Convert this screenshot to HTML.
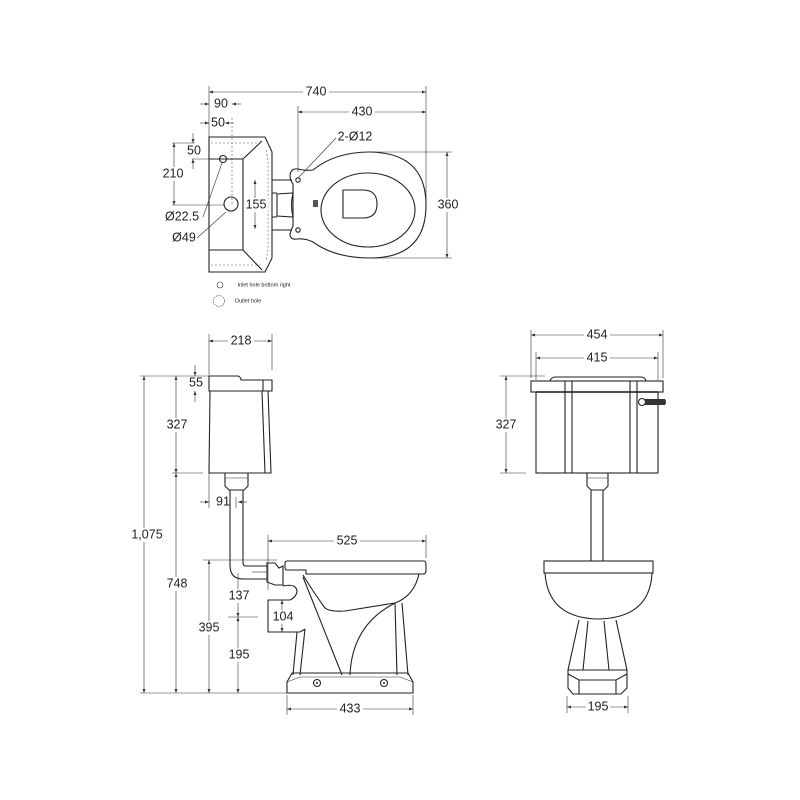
<!DOCTYPE html>
<html><head><meta charset="utf-8"><style>
html,body{margin:0;padding:0;background:#fff}
svg{display:block}
text{font-family:"Liberation Sans",Arial,sans-serif;font-size:12.5px;fill:#222;text-anchor:middle;dominant-baseline:middle}
.l{fill:none;stroke:#222;stroke-width:1.1}
.t{fill:none;stroke:#333;stroke-width:0.6}
.d{fill:none;stroke:#555;stroke-width:0.6;stroke-dasharray:2,2}
.bg{fill:#fff;stroke:none}
</style></head><body>
<svg width="800" height="800" viewBox="0 0 800 800" xmlns="http://www.w3.org/2000/svg">
<defs>
<marker id="a" viewBox="0 0 8 6" refX="8" refY="3" markerWidth="7" markerHeight="5" orient="auto-start-reverse"><path d="M0,0L8,3L0,6z" fill="#333"/></marker>
</defs>

<!-- ================= TOP VIEW ================= -->
<line class="t" x1="209" y1="86" x2="209" y2="137"/>
<line class="t" x1="426" y1="86" x2="426" y2="200"/>
<line class="t" x1="209" y1="92" x2="426" y2="92" marker-start="url(#a)" marker-end="url(#a)"/>
<rect class="bg" x="303" y="85" width="26" height="14"/><text x="316" y="92">740</text>
<line class="t" x1="298" y1="106" x2="298" y2="172"/>
<line class="t" x1="298" y1="112" x2="426" y2="112" marker-start="url(#a)" marker-end="url(#a)"/>
<rect class="bg" x="349" y="105" width="26" height="14"/><text x="362" y="112">430</text>
<line class="t" x1="200" y1="104" x2="209" y2="104" marker-end="url(#a)"/>
<line class="t" x1="241" y1="104" x2="232" y2="104" marker-end="url(#a)"/>
<text x="221" y="104">90</text>
<line class="t" x1="200" y1="123" x2="209" y2="123" marker-end="url(#a)"/>
<line class="t" x1="234" y1="123" x2="225" y2="123" marker-end="url(#a)"/>
<text x="218" y="123">50</text>
<line class="d" x1="232" y1="118" x2="232" y2="205"/>
<line class="t" x1="193" y1="133" x2="193" y2="143" marker-end="url(#a)"/>
<line class="t" x1="193" y1="169" x2="193" y2="159" marker-end="url(#a)"/>
<text x="194" y="151">50</text>
<line class="t" x1="172" y1="143" x2="195" y2="143"/>
<line class="t" x1="192" y1="159" x2="243" y2="159"/>
<line class="t" x1="172" y1="205" x2="225" y2="205"/>
<line class="t" x1="174" y1="143" x2="174" y2="205" marker-start="url(#a)" marker-end="url(#a)"/>
<rect class="bg" x="162" y="167" width="24" height="14"/><text x="173" y="174">210</text>
<path class="l" d="M209,137 L265,137 L272,152 L272,258 L265,272 L209,272 Z"/>
<line class="d" x1="211" y1="143" x2="260" y2="143"/>
<line class="d" x1="211" y1="265" x2="260" y2="265"/>
<path class="l" d="M209,159 L243,159 L262,141 M209,250 L243,250 L262,270 M243,159 L243,250"/>
<path class="d" d="M266,150 L268,160 L268,250 L266,260"/>
<circle class="l" cx="223" cy="159" r="3.5"/>
<circle class="l" cx="231" cy="204" r="7"/>
<line class="t" x1="203" y1="217" x2="222" y2="163"/>
<text x="182" y="217">Ø22.5</text>
<line class="t" x1="197" y1="238" x2="226" y2="212"/>
<text x="184" y="238">Ø49</text>
<path class="l" d="M272,180 L292,180 M272,230 L292,230"/>
<path class="l" d="M277,194 L293,193 Q290,205 293,217 L277,216 Z"/>
<path class="l" d="M272,193 L277,193 M272,217 L277,217"/>
<line class="t" x1="255" y1="180" x2="255" y2="229" marker-start="url(#a)" marker-end="url(#a)"/>
<rect class="bg" x="244" y="198" width="24" height="14"/><text x="256" y="205">155</text>
<!-- bowl -->
<path class="l" d="M313,170 Q335,152 370,152 Q426,153 426,205 Q426,258 370,258 Q335,258 313,242 Q305,238 297,239 Q290,240 290,234 Q291,230 293,226 L293,184 Q290,180 290,175 Q291,168 298,169 Q305,171 313,170 Z"/>
<ellipse class="l" cx="368" cy="210" rx="47" ry="37"/>
<path class="l" d="M343,190 L363,190 Q377,190 377,204 Q377,218 363,218 L343,218 Z"/>
<circle class="l" cx="298" cy="180" r="2.2"/>
<circle class="l" cx="298" cy="230" r="2.2"/>
<rect x="313" y="200" width="5" height="7" fill="#555"/>
<line class="t" x1="336" y1="138" x2="298" y2="178"/>
<text x="355" y="137">2-Ø12</text>
<line class="t" x1="370" y1="152" x2="452" y2="152"/>
<line class="t" x1="370" y1="258" x2="452" y2="258"/>
<line class="t" x1="447" y1="152" x2="447" y2="258" marker-start="url(#a)" marker-end="url(#a)"/>
<rect class="bg" x="436" y="198" width="24" height="14"/><text x="448" y="205">360</text>
<circle class="t" cx="220" cy="285" r="3"/>
<text x="264" y="285" style="font-size:5.5px">Inlet hole bottom right</text>
<circle class="t" cx="219" cy="301" r="5.5" style="stroke-dasharray:1.5,1"/>
<text x="248" y="301" style="font-size:5.5px">Outlet hole</text>

<!-- ================= SIDE VIEW ================= -->
<line class="t" x1="209" y1="334" x2="209" y2="375"/>
<line class="t" x1="272" y1="334" x2="272" y2="370"/>
<line class="t" x1="209" y1="341" x2="272" y2="341" marker-start="url(#a)" marker-end="url(#a)"/>
<rect class="bg" x="228" y="334" width="26" height="14"/><text x="241" y="341">218</text>
<path class="l" d="M209,376 L238,376 Q241,377 241,380 L272,380 L272,391 L209,391 Z"/>
<path class="l" d="M210,391 L209,473 L271,473 L268,391"/>
<line class="l" x1="262" y1="391" x2="265" y2="473"/>
<line class="l" x1="263" y1="380" x2="263" y2="391"/>
<path class="l" d="M225,473 L248,473 L248,486 L244,490 L229,490 L225,486 Z"/>
<line class="t" x1="225" y1="478" x2="248" y2="478"/>
<path class="l" d="M230,490 L230,565 Q230,579 243,579 L267,579 M243,490 L243,563 Q243,566 246,566 L267,566"/>
<line class="t" x1="252" y1="572" x2="267" y2="572"/>
<path class="l" d="M267,563 L275,563 L279,568 L283,566 L283,585 L275,585 L267,582 Z"/>
<!-- bowl -->
<path class="l" d="M287,561 L424,561 Q426,561 426,565 L426,571 Q426,574 423,574 L306,574 L306,570 L287,570 Q285,570 285,567 L285,564 Q285,561 287,561 Z"/>
<path class="l" d="M303,575 Q312,590 325,608 Q330,612 345,611 L395,603 Q414,596 419,574"/>
<path class="l" d="M303,577 L342,675 M350,675 Q352,625 395,603"/>
<path class="l" d="M395,603 L397,675 M402,603 L408,675"/>
<path class="l" d="M283,586 Q297,583 297,592 Q296,597 290,600 L268,600 L268,632 L300,632 L305,629"/>
<path class="l" d="M297,632 L293,675 M305,629 L300,675"/>
<path class="l" d="M292,673 L408,673 L413,682 L413,693 L287,693 L287,682 Z"/>
<path class="t" d="M287,682 L300,677 L400,677 L413,682"/>
<circle class="l" cx="317" cy="683" r="3.5"/><circle cx="317" cy="683" r="1" fill="#333"/>
<circle class="l" cx="384" cy="683" r="3.5"/><circle cx="384" cy="683" r="1" fill="#333"/>
<line class="t" x1="268" y1="535" x2="268" y2="590"/>
<line class="t" x1="426" y1="535" x2="426" y2="558"/>
<line class="t" x1="268" y1="541" x2="426" y2="541" marker-start="url(#a)" marker-end="url(#a)"/>
<rect class="bg" x="334" y="534" width="26" height="14"/><text x="347" y="541">525</text>
<line class="t" x1="287" y1="695" x2="287" y2="715"/>
<line class="t" x1="413" y1="695" x2="413" y2="715"/>
<line class="t" x1="287" y1="709" x2="413" y2="709" marker-start="url(#a)" marker-end="url(#a)"/>
<rect class="bg" x="337" y="702" width="26" height="14"/><text x="350" y="709">433</text>
<line class="t" x1="140" y1="693" x2="287" y2="693"/>
<line class="t" x1="140" y1="376" x2="209" y2="376"/>
<line class="t" x1="172" y1="473" x2="203" y2="473"/>
<line class="t" x1="203" y1="560" x2="277" y2="560"/>
<line class="t" x1="228" y1="617" x2="258" y2="617"/>
<line class="t" x1="144" y1="376" x2="144" y2="693" marker-start="url(#a)" marker-end="url(#a)"/>
<rect class="bg" x="128" y="528" width="36" height="14"/><text x="147" y="535">1,075</text>
<line class="t" x1="176" y1="376" x2="176" y2="473" marker-start="url(#a)" marker-end="url(#a)"/>
<line class="t" x1="176" y1="473" x2="176" y2="693" marker-start="url(#a)" marker-end="url(#a)"/>
<rect class="bg" x="164" y="418" width="26" height="14"/><text x="177" y="425">327</text>
<rect class="bg" x="164" y="577" width="26" height="14"/><text x="177" y="584">748</text>
<line class="t" x1="195" y1="365" x2="195" y2="376" marker-end="url(#a)"/>
<line class="t" x1="195" y1="402" x2="195" y2="391" marker-end="url(#a)"/>
<text x="196" y="383">55</text>
<line class="t" x1="200" y1="502" x2="209" y2="502" marker-end="url(#a)"/>
<line class="t" x1="247" y1="502" x2="238" y2="502" marker-end="url(#a)"/>
<line class="t" x1="209" y1="473" x2="209" y2="508"/>
<line class="t" x1="236" y1="497" x2="236" y2="508"/>
<text x="223" y="502">91</text>
<line class="t" x1="209" y1="560" x2="209" y2="693" marker-start="url(#a)" marker-end="url(#a)"/>
<rect class="bg" x="196" y="621" width="26" height="14"/><text x="209" y="628">395</text>
<line class="t" x1="238" y1="573" x2="238" y2="617" marker-end="url(#a)"/>
<line class="t" x1="238" y1="617" x2="238" y2="693" marker-start="url(#a)" marker-end="url(#a)"/>
<rect class="bg" x="226" y="589" width="26" height="14"/><text x="239" y="596">137</text>
<rect class="bg" x="226" y="648" width="26" height="14"/><text x="239" y="655">195</text>
<line class="t" x1="282" y1="600" x2="282" y2="632" marker-start="url(#a)" marker-end="url(#a)"/>
<rect class="bg" x="271" y="610" width="24" height="14"/><text x="283" y="617">104</text>

<!-- ================= FRONT VIEW ================= -->
<line class="t" x1="531" y1="330" x2="531" y2="378"/>
<line class="t" x1="663" y1="330" x2="663" y2="378"/>
<line class="t" x1="531" y1="335" x2="663" y2="335" marker-start="url(#a)" marker-end="url(#a)"/>
<rect class="bg" x="584" y="328" width="26" height="14"/><text x="597" y="335">454</text>
<line class="t" x1="536" y1="352" x2="536" y2="380"/>
<line class="t" x1="658" y1="352" x2="658" y2="380"/>
<line class="t" x1="536" y1="358" x2="658" y2="358" marker-start="url(#a)" marker-end="url(#a)"/>
<rect class="bg" x="584" y="351" width="26" height="14"/><text x="597" y="358">415</text>
<path class="l" d="M550,381 Q551,377 556,377 L641,377 Q645,377 646,381"/>
<rect class="l" x="531" y="381" width="132" height="11"/>
<line class="l" x1="536" y1="392" x2="658" y2="392" style="stroke-width:1.6"/>
<rect class="l" x="536" y="392" width="122" height="81"/>
<path class="l" d="M565,381 L565,473 M572,381 L572,473 M630,381 L630,473 M637,381 L637,473"/>
<circle class="l" cx="642" cy="402" r="3.5"/>
<path d="M645,399 L665,399 Q667,402 665,405 L645,405 Z" fill="#333"/>
<line class="t" x1="500" y1="376" x2="545" y2="376"/>
<line class="t" x1="500" y1="473" x2="526" y2="473"/>
<line class="t" x1="506" y1="376" x2="506" y2="473" marker-start="url(#a)" marker-end="url(#a)"/>
<rect class="bg" x="494" y="418" width="26" height="14"/><text x="506" y="425">327</text>
<path class="l" d="M587,473 L608,473 L608,486 L604,490 L591,490 L587,486 Z"/>
<line class="t" x1="587" y1="478" x2="608" y2="478"/>
<path class="l" d="M591,490 L591,561 M603,490 L603,561"/>
<rect class="l" x="544" y="561" width="109" height="12"/>
<path class="l" d="M545,573 Q548,618 598,619 Q650,618 652,573"/>
<path class="l" d="M579,620 L568,670 M616,620 L627,670 M588,621 L583,670 M604,621 L609,670"/>
<path class="l" d="M568,670 L627,670 L627,688 L621,694 L573,694 L568,688 Z"/>
<path class="l" d="M568,674 L579,680 L616,680 L627,674 M579,680 L579,694 M616,680 L616,694"/>
<line class="t" x1="567" y1="696" x2="567" y2="713"/>
<line class="t" x1="628" y1="696" x2="628" y2="713"/>
<line class="t" x1="567" y1="707" x2="628" y2="707" marker-start="url(#a)" marker-end="url(#a)"/>
<rect class="bg" x="586" y="700" width="24" height="14"/><text x="598" y="707">195</text>
</svg>
</body></html>
